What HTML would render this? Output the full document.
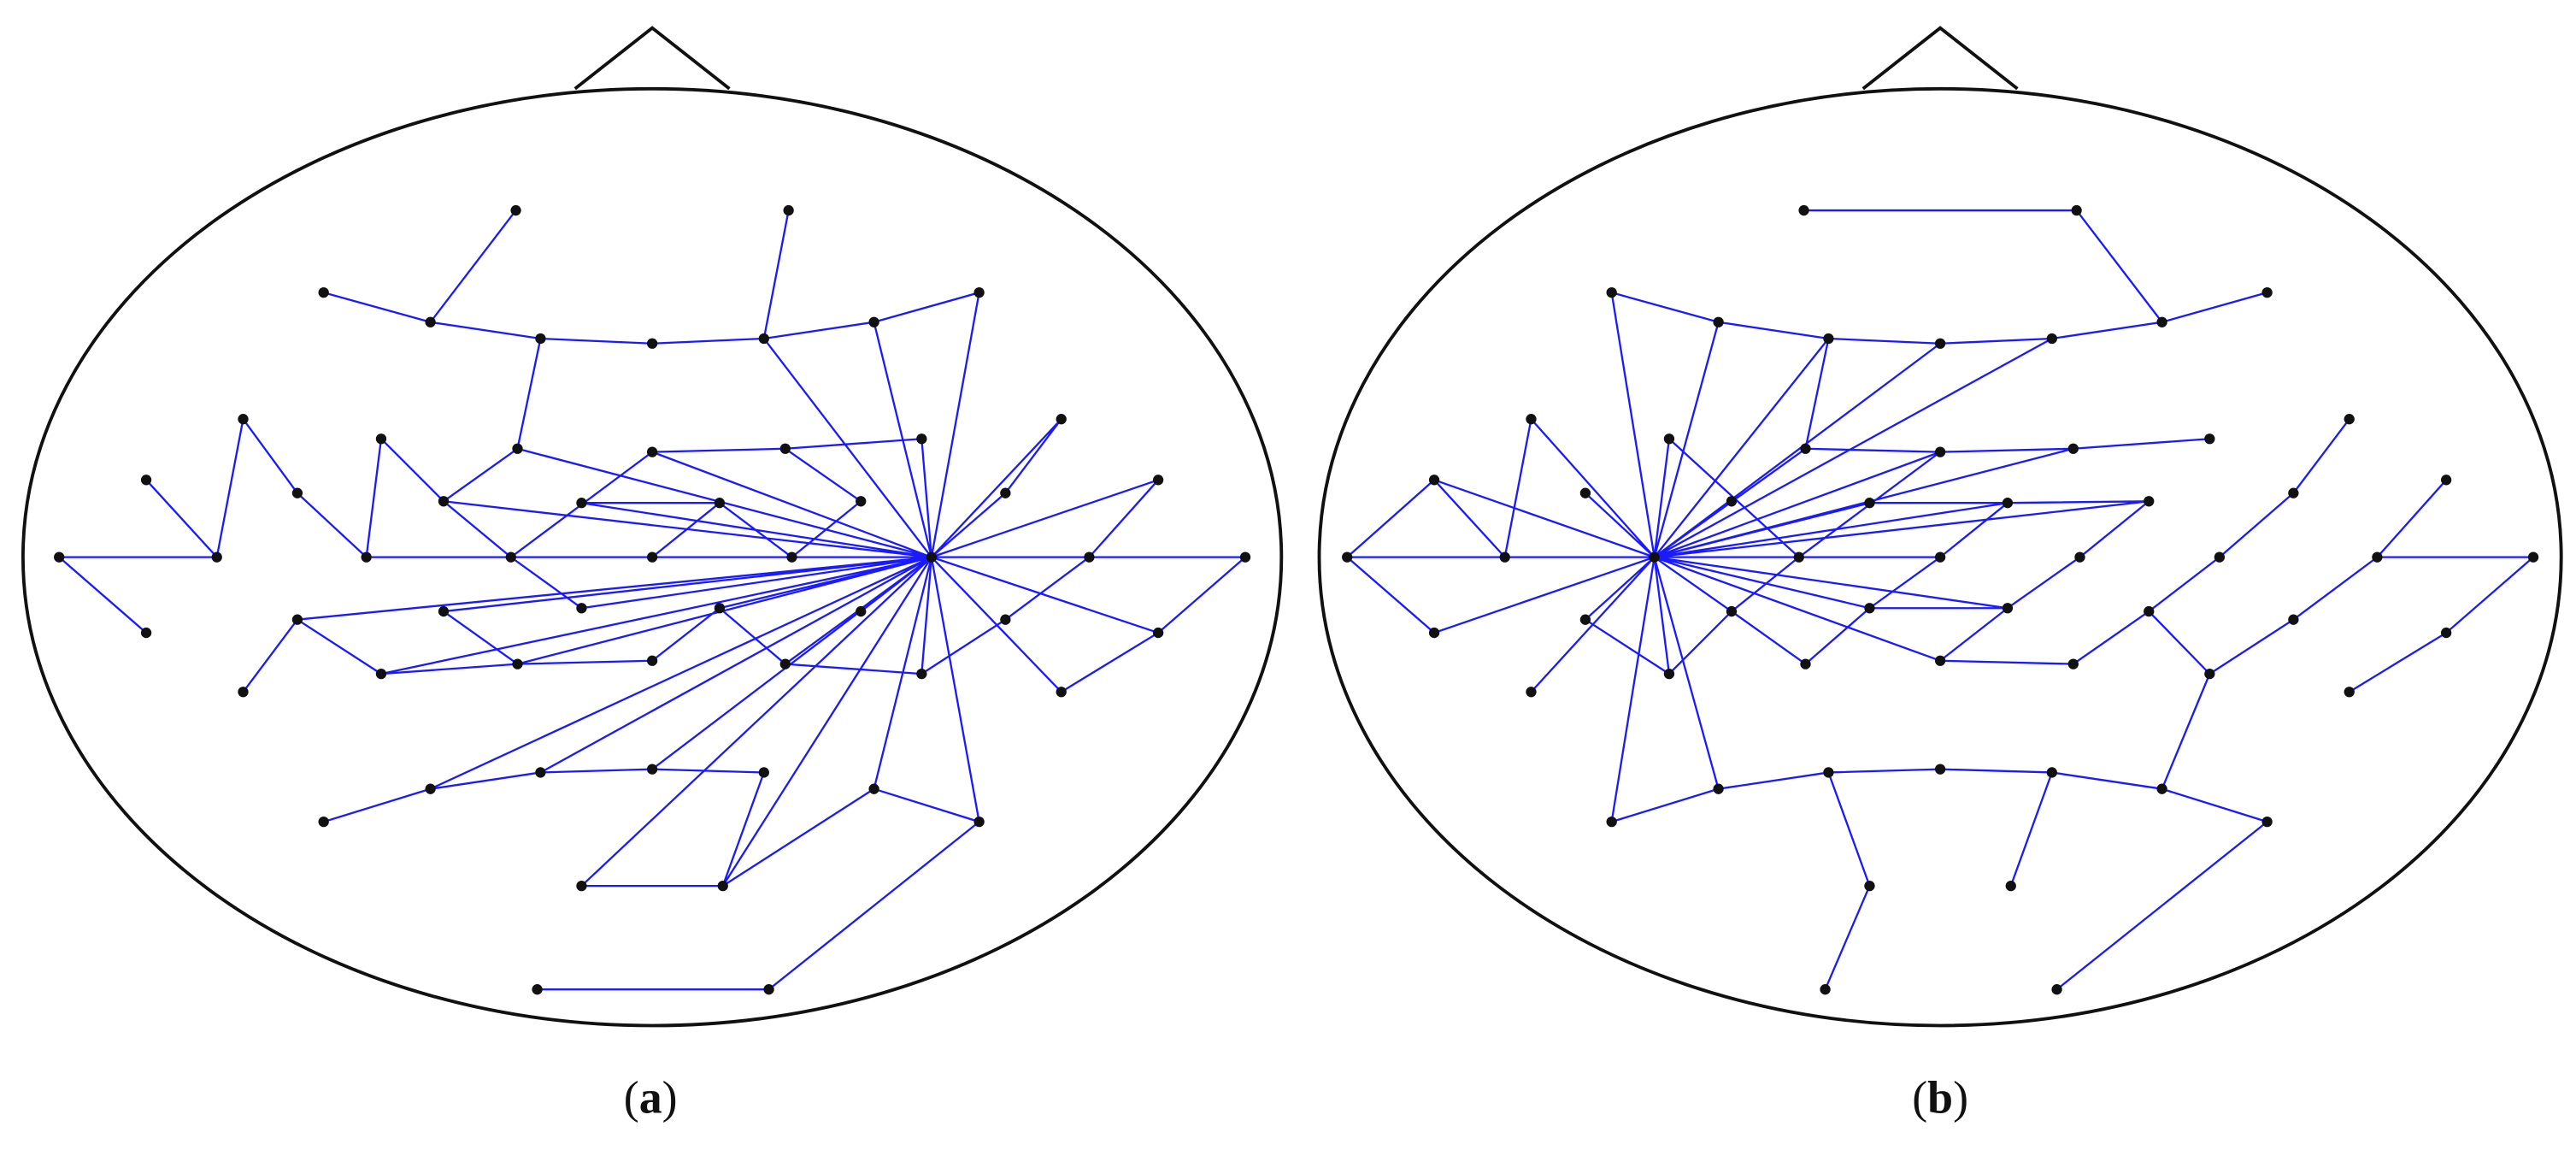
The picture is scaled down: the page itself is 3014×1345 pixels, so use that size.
<!DOCTYPE html>
<html><head><meta charset="utf-8"><style>
html,body{margin:0;padding:0;background:#fff;}
svg{display:block;}
</style></head><body>
<svg width="3014" height="1345" viewBox="0 0 1568 699.7" preserveAspectRatio="none" xmlns="http://www.w3.org/2000/svg">
<defs>
<circle id="d" r="3.2" fill="#111"/>
<g id="dots">
<use href="#d" x="314" y="128"/><use href="#d" x="480" y="128"/>
<use href="#d" x="197" y="178"/><use href="#d" x="262" y="196"/><use href="#d" x="329" y="206"/><use href="#d" x="397" y="209"/><use href="#d" x="465" y="206"/><use href="#d" x="532" y="196"/><use href="#d" x="596" y="178"/>
<use href="#d" x="148" y="255"/><use href="#d" x="232" y="267"/><use href="#d" x="315" y="273"/><use href="#d" x="397" y="275"/><use href="#d" x="478" y="273"/><use href="#d" x="561" y="267"/><use href="#d" x="646" y="255"/>
<use href="#d" x="89" y="292"/><use href="#d" x="181" y="300"/><use href="#d" x="270" y="305"/><use href="#d" x="354" y="306"/><use href="#d" x="438" y="306"/><use href="#d" x="524" y="305"/><use href="#d" x="612" y="300"/><use href="#d" x="705" y="292"/>
<use href="#d" x="36" y="339"/><use href="#d" x="132" y="339"/><use href="#d" x="223" y="339"/><use href="#d" x="311" y="339"/><use href="#d" x="397" y="339"/><use href="#d" x="482" y="339"/><use href="#d" x="567" y="339"/><use href="#d" x="663" y="339"/><use href="#d" x="758" y="339"/>
<use href="#d" x="89" y="385"/><use href="#d" x="181" y="377"/><use href="#d" x="270" y="372"/><use href="#d" x="354" y="370"/><use href="#d" x="438" y="370"/><use href="#d" x="524" y="372"/><use href="#d" x="612" y="377"/><use href="#d" x="705" y="385"/>
<use href="#d" x="148" y="421"/><use href="#d" x="232" y="410"/><use href="#d" x="315" y="404"/><use href="#d" x="397" y="402"/><use href="#d" x="478" y="404"/><use href="#d" x="561" y="410"/><use href="#d" x="646" y="421"/>
<use href="#d" x="197" y="500"/><use href="#d" x="262" y="480"/><use href="#d" x="329" y="470"/><use href="#d" x="397" y="468"/><use href="#d" x="465" y="470"/><use href="#d" x="532" y="480"/><use href="#d" x="596" y="500"/>
<use href="#d" x="354" y="539"/><use href="#d" x="440" y="539"/>
<use href="#d" x="327" y="602"/><use href="#d" x="468" y="602"/>
</g>
</defs>

<!-- Panel a -->
<ellipse cx="397" cy="339" rx="383" ry="285" fill="none" stroke="#111" stroke-width="2"/>
<polyline points="350,54 397,17 444,54" fill="none" stroke="#111" stroke-width="2"/>
<path fill="none" stroke="#1a1aff" stroke-width="1.2" d="
M314 128L262 196 M480 128L465 206 M197 178L262 196L329 206L397 209L465 206L532 196L596 178 M329 206L315 273 M465 206L567 339 M532 196L567 339 M596 178L567 339
M148 255L132 339 M148 255L181 300L223 339 M89 292L132 339 M36 339L132 339 M36 339L89 385
M232 267L223 339 M232 267L270 305L311 339L354 370 M315 273L270 305 M315 273L567 339 M397 275L478 273L561 267 M561 267L567 339 M397 275L311 339 M397 275L567 339 M478 273L524 305 M270 305L567 339 M354 306L438 306 M354 306L567 339 M438 306L482 339 M438 306L397 339 M524 305L482 339 M223 339L758 339
M646 255L612 300L567 339 M646 255L567 339 M705 292L567 339 M705 292L663 339 M758 339L705 385 M705 385L567 339 M663 339L612 377L561 410 M567 339L646 421L705 385
M181 377L567 339 M181 377L148 421 M181 377L232 410 M270 372L315 404 M270 372L567 339 M354 370L567 339 M232 410L567 339 M232 410L315 404L397 402 M315 404L567 339 M397 402L438 370 M438 370L567 339 M438 370L478 404L561 410 M561 410L567 339 M478 404L567 339 M524 372L567 339
M197 500L262 480L329 470L397 468L465 470 M262 480L567 339 M329 470L567 339 M397 468L567 339 M465 470L440 539 M354 539L440 539 M354 539L567 339 M440 539L567 339 M440 539L532 480 M532 480L567 339 M532 480L596 500 M596 500L567 339 M596 500L468 602 M327 602L468 602"/>
<use href="#dots"/>

<!-- Panel b -->
<ellipse cx="1181" cy="339" rx="378" ry="285" fill="none" stroke="#111" stroke-width="2"/>
<polyline points="1134,54 1181,17 1228,54" fill="none" stroke="#111" stroke-width="2"/>
<g transform="translate(784,0)">
<path fill="none" stroke="#1a1aff" stroke-width="1.2" d="
M314 128L480 128L532 196 M197 178L262 196L329 206L397 209L465 206L532 196L596 178
M197 178L223 339 M262 196L223 339 M329 206L223 339 M329 206L315 273 M397 209L223 339 M465 206L223 339
M148 255L132 339 M148 255L223 339 M181 300L223 339 M232 267L223 339 M232 267L311 339 M315 273L397 275L478 273L561 267 M315 273L223 339 M397 275L223 339 M397 275L311 339 M478 273L223 339
M89 292L36 339 M89 292L132 339 M89 292L223 339 M270 305L223 339 M354 306L223 339 M354 306L438 306L223 339 M438 306L397 339 M438 306L524 305L223 339 M524 305L482 339L438 370
M36 339L397 339 M36 339L89 385L223 339
M148 421L223 339 M181 377L232 410 M181 377L223 339 M232 410L223 339 M232 410L270 372L311 339 M270 372L223 339 M270 372L315 404L354 370L397 339 M354 370L438 370 M438 370L223 339 M354 370L223 339 M438 370L397 402L223 339 M397 402L478 404L524 372L567 339L612 300L646 255 M524 372L561 410 M561 410L532 480 M705 292L663 339L612 377L561 410 M663 339L758 339L705 385L646 421
M197 500L223 339 M262 480L223 339 M197 500L262 480L329 470L397 468L465 470L532 480L596 500 M329 470L354 539L327 602 M465 470L440 539 M596 500L468 602"/>
<use href="#dots"/>
</g>

<text x="396" y="677" text-anchor="middle" font-family="Liberation Serif, serif" font-size="28" fill="#111">(<tspan font-weight="bold">a</tspan>)</text>
<text x="1181" y="677" text-anchor="middle" font-family="Liberation Serif, serif" font-size="28" fill="#111">(<tspan font-weight="bold">b</tspan>)</text>
</svg>
</body></html>
